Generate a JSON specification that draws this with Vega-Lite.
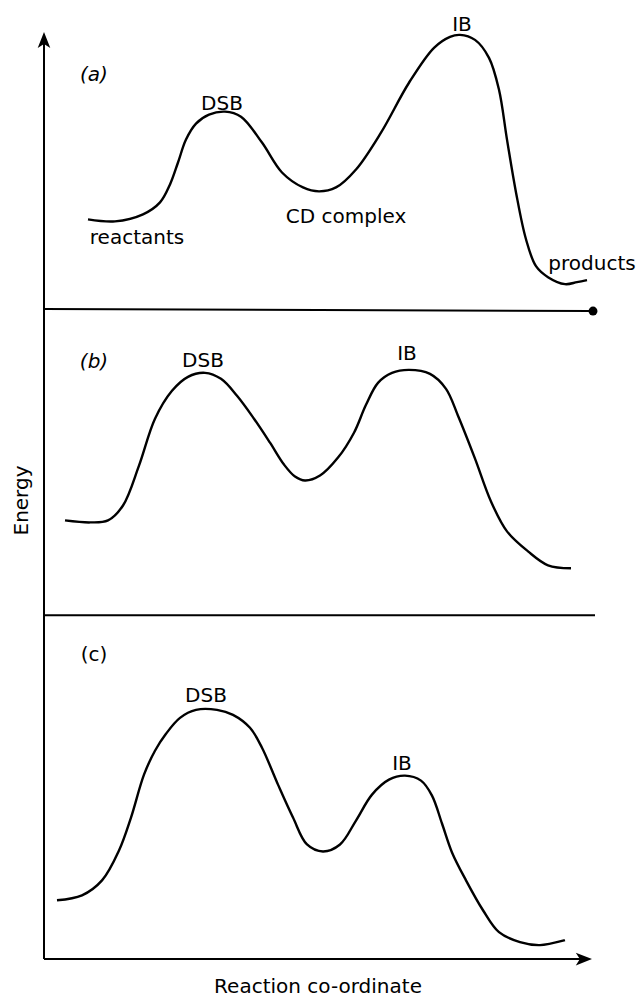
{
  "$schema": "https://vega.github.io/schema/vega-lite/v6.json",
  "width": 640,
  "height": 997,
  "autosize": {"type": "fit", "contains": "padding"},
  "padding": 0,
  "background": "white",
  "config": {"view": {"stroke": null}},
  "datasets": {
    "curves": [
      {"panel": "a", "x": 44, "y": 742}, {"panel": "a", "x": 71, "y": 740}, {"panel": "a", "x": 99, "y": 747}, {"panel": "a", "x": 116, "y": 759}, {"panel": "a", "x": 126, "y": 777}, {"panel": "a", "x": 134, "y": 799}, {"panel": "a", "x": 142, "y": 822}, {"panel": "a", "x": 152, "y": 838}, {"panel": "a", "x": 165, "y": 847}, {"panel": "a", "x": 181, "y": 850}, {"panel": "a", "x": 197, "y": 845}, {"panel": "a", "x": 218, "y": 819}, {"panel": "a", "x": 238, "y": 789}, {"panel": "a", "x": 259, "y": 774}, {"panel": "a", "x": 275, "y": 770}, {"panel": "a", "x": 292, "y": 774}, {"panel": "a", "x": 312, "y": 792}, {"panel": "a", "x": 337, "y": 829}, {"panel": "a", "x": 365, "y": 879}, {"panel": "a", "x": 390, "y": 914}, {"panel": "a", "x": 406, "y": 925}, {"panel": "a", "x": 416, "y": 927}, {"panel": "a", "x": 431, "y": 922}, {"panel": "a", "x": 445, "y": 904}, {"panel": "a", "x": 455, "y": 872}, {"panel": "a", "x": 463, "y": 822}, {"panel": "a", "x": 472, "y": 769}, {"panel": "a", "x": 482, "y": 722}, {"panel": "a", "x": 492, "y": 695}, {"panel": "a", "x": 504, "y": 684}, {"panel": "a", "x": 521, "y": 677}, {"panel": "a", "x": 533, "y": 679}, {"panel": "a", "x": 543, "y": 681},
      {"panel": "b", "x": 21, "y": 440}, {"panel": "b", "x": 46, "y": 438}, {"panel": "b", "x": 64, "y": 440}, {"panel": "b", "x": 79, "y": 455}, {"panel": "b", "x": 95, "y": 495}, {"panel": "b", "x": 111, "y": 542}, {"panel": "b", "x": 128, "y": 570}, {"panel": "b", "x": 144, "y": 584}, {"panel": "b", "x": 161, "y": 588}, {"panel": "b", "x": 177, "y": 582}, {"panel": "b", "x": 193, "y": 565}, {"panel": "b", "x": 210, "y": 542}, {"panel": "b", "x": 226, "y": 518}, {"panel": "b", "x": 240, "y": 496}, {"panel": "b", "x": 251, "y": 484}, {"panel": "b", "x": 261, "y": 480}, {"panel": "b", "x": 276, "y": 485}, {"panel": "b", "x": 294, "y": 503}, {"panel": "b", "x": 310, "y": 528}, {"panel": "b", "x": 322, "y": 556}, {"panel": "b", "x": 334, "y": 578}, {"panel": "b", "x": 348, "y": 588}, {"panel": "b", "x": 365, "y": 591}, {"panel": "b", "x": 386, "y": 587}, {"panel": "b", "x": 402, "y": 572}, {"panel": "b", "x": 414, "y": 545}, {"panel": "b", "x": 431, "y": 502}, {"panel": "b", "x": 447, "y": 459}, {"panel": "b", "x": 463, "y": 429}, {"panel": "b", "x": 484, "y": 409}, {"panel": "b", "x": 504, "y": 395}, {"panel": "b", "x": 527, "y": 392},
      {"panel": "c", "x": 13, "y": 59}, {"panel": "c", "x": 38, "y": 64}, {"panel": "c", "x": 58, "y": 79}, {"panel": "c", "x": 75, "y": 109}, {"panel": "c", "x": 87, "y": 142}, {"panel": "c", "x": 100, "y": 185}, {"panel": "c", "x": 111, "y": 209}, {"panel": "c", "x": 122, "y": 226}, {"panel": "c", "x": 136, "y": 242}, {"panel": "c", "x": 152, "y": 250}, {"panel": "c", "x": 173, "y": 250}, {"panel": "c", "x": 189, "y": 245}, {"panel": "c", "x": 206, "y": 232}, {"panel": "c", "x": 218, "y": 212}, {"panel": "c", "x": 234, "y": 175}, {"panel": "c", "x": 249, "y": 142}, {"panel": "c", "x": 263, "y": 115}, {"panel": "c", "x": 279, "y": 108}, {"panel": "c", "x": 296, "y": 115}, {"panel": "c", "x": 312, "y": 139}, {"panel": "c", "x": 328, "y": 165}, {"panel": "c", "x": 345, "y": 180}, {"panel": "c", "x": 361, "y": 184}, {"panel": "c", "x": 377, "y": 179}, {"panel": "c", "x": 388, "y": 164}, {"panel": "c", "x": 398, "y": 136}, {"panel": "c", "x": 408, "y": 107}, {"panel": "c", "x": 422, "y": 79}, {"panel": "c", "x": 439, "y": 49}, {"panel": "c", "x": 455, "y": 27}, {"panel": "c", "x": 476, "y": 17}, {"panel": "c", "x": 496, "y": 14}, {"panel": "c", "x": 521, "y": 19}
    ],
    "lines": [
      {"name": "energy axis", "x": 0, "x2": 0, "y": 0, "y2": 921},
      {"name": "coordinate axis", "x": 0, "x2": 540, "y": 0, "y2": 0},
      {"name": "panel a base", "x": 0, "x2": 547, "y": 652, "y2": 650},
      {"name": "panel b base", "x": 0, "x2": 551, "y": 345, "y2": 345}
    ],
    "upArrow": [{"x": 0, "y": 921}],
    "rightArrow": [{"x": 539, "y": 0}],
    "dot": [{"x": 549, "y": 650}],
    "labels": [
      {"label": "(a)", "x": 50, "y": 887, "italic": true},
      {"label": "DSB", "x": 178, "y": 858, "italic": false},
      {"label": "IB", "x": 418, "y": 937, "italic": false},
      {"label": "CD complex", "x": 302, "y": 744, "italic": false},
      {"label": "reactants", "x": 93, "y": 723, "italic": false},
      {"label": "products", "x": 548, "y": 697, "italic": false},
      {"label": "(b)", "x": 50, "y": 599, "italic": true},
      {"label": "DSB", "x": 159, "y": 600, "italic": false},
      {"label": "IB", "x": 363, "y": 607, "italic": false},
      {"label": "(c)", "x": 50, "y": 305, "italic": false},
      {"label": "DSB", "x": 162, "y": 264, "italic": false},
      {"label": "IB", "x": 358, "y": 196, "italic": false},
      {"label": "Reaction co-ordinate", "x": 274, "y": -28, "italic": false}
    ],
    "ylabel": [{"label": "Energy", "x": -22, "y": 460}]
  },
  "encoding": {
    "x": {"field": "x", "type": "quantitative", "scale": {"domain": [-44, 596], "nice": false, "zero": false}, "axis": null},
    "y": {"field": "y", "type": "quantitative", "scale": {"domain": [-35, 962], "nice": false, "zero": false}, "axis": null}
  },
  "layer": [
    {
      "data": {"name": "lines"},
      "mark": {"type": "rule", "color": "black", "strokeWidth": 2},
      "encoding": {
        "x2": {"field": "x2"},
        "y2": {"field": "y2"}
      }
    },
    {
      "data": {"name": "curves"},
      "mark": {"type": "line", "color": "black", "strokeWidth": 2.4, "interpolate": "catmull-rom"},
      "encoding": {
        "detail": {"field": "panel", "type": "nominal"}
      }
    },
    {
      "data": {"name": "upArrow"},
      "mark": {"type": "point", "shape": "M0,-1L0.7,0.8L0,0.35L-0.7,0.8Z", "filled": true, "size": 324, "color": "black", "opacity": 1}
    },
    {
      "data": {"name": "rightArrow"},
      "mark": {"type": "point", "shape": "M1,0L-0.8,0.7L-0.35,0L-0.8,-0.7Z", "filled": true, "size": 324, "color": "black", "opacity": 1}
    },
    {
      "data": {"name": "dot"},
      "mark": {"type": "point", "shape": "circle", "filled": true, "size": 80, "color": "black", "opacity": 1}
    },
    {
      "data": {"name": "labels"},
      "transform": [{"filter": "datum.italic"}],
      "mark": {"type": "text", "font": "DejaVu Sans", "fontSize": 20, "fontStyle": "italic", "align": "center", "baseline": "middle", "color": "black"},
      "encoding": {"text": {"field": "label"}}
    },
    {
      "data": {"name": "labels"},
      "transform": [{"filter": "!datum.italic"}],
      "mark": {"type": "text", "font": "DejaVu Sans", "fontSize": 20, "align": "center", "baseline": "middle", "color": "black"},
      "encoding": {"text": {"field": "label"}}
    },
    {
      "data": {"name": "ylabel"},
      "mark": {"type": "text", "font": "DejaVu Sans", "fontSize": 20, "angle": 270, "align": "center", "baseline": "middle", "color": "black"},
      "encoding": {"text": {"field": "label"}}
    }
  ]
}
